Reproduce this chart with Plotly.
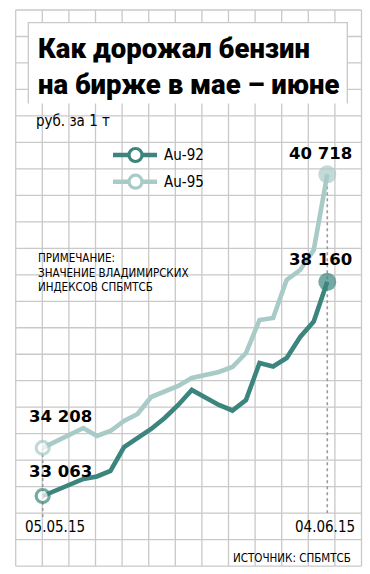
import plotly.graph_objects as go

# ---------------- data ----------------
dates = ["05.05.15", "06.05.15", "07.05.15", "08.05.15", "12.05.15", "13.05.15",
         "14.05.15", "15.05.15", "18.05.15", "19.05.15", "20.05.15", "21.05.15",
         "22.05.15", "25.05.15", "26.05.15", "27.05.15", "28.05.15", "29.05.15",
         "01.06.15", "02.06.15", "03.06.15", "04.06.15"]
au92 = [33063, 33206, 33337, 33468, 33527, 33658, 34229, 34443, 34658, 34919, 35229,
        35586, 35419, 35229, 35098, 35348, 36228, 36145, 36347, 36847, 37216, 38160]
au95 = [34208, 34372, 34539, 34681, 34491, 34610, 34848, 35015, 35419, 35538, 35681,
        35871, 35943, 36014, 36133, 36466, 37252, 37299, 38204, 38442, 38918, 40718]
series_names = ["Au-92", "Au-95"]
title_lines = ["Как дорожал бензин", "на бирже в мае – июне"]
unit_label = "руб. за 1 т"
note_lines = ["ПРИМЕЧАНИЕ:", "ЗНАЧЕНИЕ ВЛАДИМИРСКИХ", "ИНДЕКСОВ СПБМТСБ"]
source_label = "ИСТОЧНИК: СПБМТСБ"

# ---------------- style / layout constants ----------------
W, H = 370, 574
C92 = "#3b857e"
C95 = "#a9cbc7"
GRID = "#c9c9c9"
NARROW = "Liberation Sans Narrow, DejaVu Sans Condensed, Roboto Condensed, Arial Narrow, sans-serif"
BOLD = "Roboto, Inter, DejaVu Sans, sans-serif"
NUMFONT = "DejaVu Sans, Roboto, sans-serif"

def px(x):
    return x / W

def py(y):
    return 1 - y / H

idx = list(range(len(dates)))

PX_PER_UNIT_X = 13.552
X_LEFT_PX = 42.7 - PX_PER_UNIT_X        # index -1
X_RIGHT_PX = 42.7 + 22 * PX_PER_UNIT_X  # index 22
RUB_PER_PX = 23.8
ANCHOR_PX = 496.0
Y_TOP_PX, Y_BOT_PX = 150.0, 530.0

def val_at_px(ypx):
    return au92[0] + (ANCHOR_PX - ypx) * RUB_PER_PX

fig = go.Figure()

n = len(idx)
for vals, col in ((au95, C95), (au92, C92)):
    sizes = [13] + [0] * (n - 2) + [18]
    fills = ["white"] + [col] * (n - 1)
    lw = [3.2] + [0] * (n - 1)
    fig.add_trace(go.Scatter(
        x=idx, y=vals, mode="lines+markers", cliponaxis=False, showlegend=False,
        line=dict(color=col, width=4.6),
        marker=dict(size=sizes, color=fills, line=dict(color=col, width=lw)),
        hoverinfo="skip"))

shapes = []
# background grid
gx0, gdx = 15.7, 26.6
gy0, gdy = 10.0, 26.48
for k in range(14):
    x = gx0 + k * gdx
    shapes.append(dict(type="line", xref="paper", yref="paper", x0=px(x), x1=px(x),
                       y0=py(gy0), y1=py(gy0 + 21 * gdy), line=dict(color=GRID, width=1.3),
                       layer="below"))
for k in range(22):
    y = gy0 + k * gdy
    shapes.append(dict(type="line", xref="paper", yref="paper", x0=px(gx0), x1=px(gx0 + 13 * gdx),
                       y0=py(y), y1=py(y), line=dict(color=GRID, width=1.3), layer="below"))
# title box
shapes.append(dict(type="rect", xref="paper", yref="paper", x0=px(28.3), x1=px(347.3),
                   y0=py(22.7), y1=py(103.5), fillcolor="white", line=dict(width=0), layer="below"))
shapes.append(dict(type="path", xref="paper", yref="paper",
                   path=f"M {px(28.3)},{py(103.5)} L {px(28.3)},{py(22.7)} L {px(347.3)},{py(22.7)} L {px(347.3)},{py(103.5)}",
                   line=dict(color=GRID, width=1.3), layer="below"))
# dotted guide lines
shapes.append(dict(type="line", xref="x", yref="y", x0=idx[0], x1=idx[0], y0=au95[0], y1=val_at_px(517),
                   line=dict(color="#9a9a9a", width=1.6, dash="dot"), layer="below"))
shapes.append(dict(type="line", xref="x", yref="y", x0=idx[-1], x1=idx[-1], y0=au95[-1], y1=val_at_px(513),
                   line=dict(color="#9a9a9a", width=1.6, dash="dot"), layer="below"))
# legend symbols
for name, col, ly in ((series_names[0], C92, 155.0), (series_names[1], C95, 181.7)):
    shapes.append(dict(type="line", xref="paper", yref="paper", x0=px(113), x1=px(157),
                       y0=py(ly), y1=py(ly), line=dict(color=col, width=4.6)))
    shapes.append(dict(type="circle", xref="paper", yref="paper", x0=px(129), x1=px(142),
                       y0=py(ly - 6.5), y1=py(ly + 6.5), fillcolor="white", line=dict(color=col, width=3.2)))

ann = []
def text(x, y, s, size, family, xanchor="left", weight="normal", color="black"):
    ann.append(dict(xref="paper", yref="paper", x=px(x), y=py(y), text=s, showarrow=False,
                    xanchor=xanchor, yanchor="middle", align="left",
                    font=dict(size=size, family=family, color=color, weight=weight)))

text(36, 66.5, "<br>".join(title_lines), 27.5, BOLD, weight=900)
text(34, 121, unit_label, 15, NARROW)
text(162, 155, series_names[0], 15, NARROW)
text(162, 182, series_names[1], 15, NARROW)
for i, s in enumerate(note_lines):
    text(35.5, 258 + i * 14.5, s, 11.5, NARROW)
text(54.7, 526.5, dates[0], 15, NARROW, xanchor="center")
text(324.7, 526.5, dates[-1], 15, NARROW, xanchor="center")
text(353, 558, source_label, 11.5, NARROW, xanchor="right")

def fmt(v):
    return f"{v:,}".replace(",", " ")

# value labels attached to data points
for xv, yv, xa, xs, ys in ((idx[-1], au95[-1], "center", -7, 21),
                           (idx[-1], au92[-1], "center", -7, 22),
                           (idx[0], au95[0], "left", -16, 31),
                           (idx[0], au92[0], "left", -16, 25)):
    ann.append(dict(xref="x", yref="y", x=xv, y=yv, text=fmt(yv), showarrow=False,
                    xanchor=xa, yanchor="middle", xshift=xs, yshift=ys,
                    font=dict(size=16.5, family=NUMFONT, weight="bold", color="black")))

fig.update_layout(
    width=W, height=H, margin=dict(l=0, r=0, t=0, b=0),
    paper_bgcolor="white", plot_bgcolor="rgba(0,0,0,0)",
    xaxis=dict(domain=[px(X_LEFT_PX), px(X_RIGHT_PX)], range=[-1, 22], visible=False, fixedrange=True),
    yaxis=dict(domain=[py(Y_BOT_PX), py(Y_TOP_PX)], range=[val_at_px(Y_BOT_PX), val_at_px(Y_TOP_PX)],
               visible=False, fixedrange=True),
    shapes=shapes, annotations=ann, showlegend=False,
)

fig.write_html("out.html", config={"displayModeBar": False},
               post_script="document.body.style.margin='0';")
